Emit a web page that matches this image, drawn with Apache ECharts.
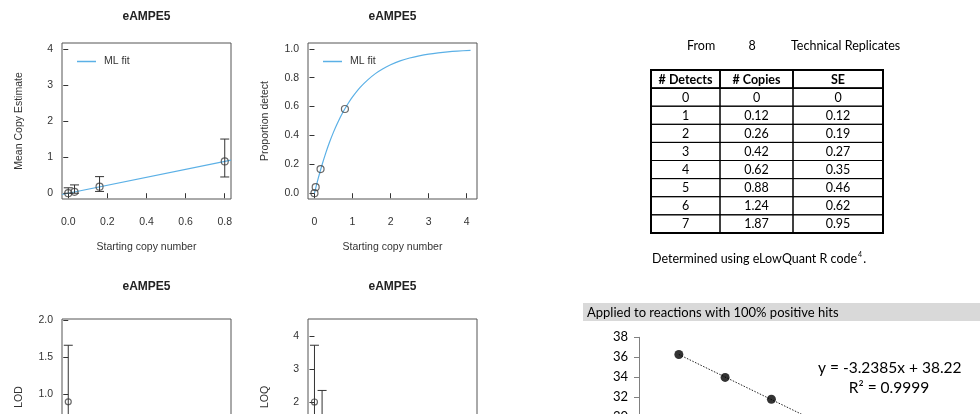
<!DOCTYPE html>
<html><head><meta charset="utf-8">
<script src="https://cdn.jsdelivr.net/npm/echarts@6/dist/echarts.min.js"></script>
<style>html,body{margin:0;padding:0;background:#fff}#c{width:980px;height:414px}</style>
</head><body><div id="c"></div><script>
// ---- data ----
const startCopies = [0, 0.032, 0.16, 0.8];
const meanEstimate = [0, 0.04, 0.18, 0.88];
const meanLow = [0, 0, 0.05, 0.45];
const meanHigh = [0.15, 0.23, 0.46, 1.50];
const propDetect = [0, 0.042, 0.167, 0.583];
const fitLineX = [-0.032, 0.832];
const fitLineY = [-0.035, 0.915];
const fitCurveX = [0, 0.1, 0.2, 0.3, 0.4, 0.5, 0.6, 0.75, 0.9, 1, 1.2, 1.4, 1.6, 1.8, 2, 2.25, 2.5, 2.75, 3, 3.25, 3.5, 3.75, 4.1];
const fitCurveY = [0, 0.104, 0.197, 0.281, 0.356, 0.423, 0.483, 0.562, 0.628, 0.667, 0.733, 0.785, 0.828, 0.862, 0.889, 0.916, 0.936, 0.951, 0.963, 0.972, 0.979, 0.984, 0.989];
const lodX = [0], lodVal = [0.9], lodLow = [0.14], lodHigh = [1.66];
const loqX = [0, 0.2], loqVal = [2.0, 1.3], loqLow = [0.28, 0.25], loqHigh = [3.72, 2.35];
const ticksMean = [0, 1, 2, 3, 4];
const ticksCopyX = [0, 0.2, 0.4, 0.6, 0.8];
const ticksProp = [0, 0.2, 0.4, 0.6, 0.8, 1.0];
const ticksCopyX2 = [0, 1, 2, 3, 4];
const ticksLod = [0, 0.5, 1.0, 1.5, 2.0];
const ticksLoq = [0, 1, 2, 3, 4];
const tableHead = ['# Detects', '# Copies', 'SE'];
const detects = ['0', '1', '2', '3', '4', '5', '6', '7'];
const copies = ['0', '0.12', '0.26', '0.42', '0.62', '0.88', '1.24', '1.87'];
const seVals = ['0', '0.12', '0.19', '0.27', '0.35', '0.46', '0.62', '0.95'];
const logCopies = [0.602, 1.301, 2.0, 2.699];
const ctVals = [36.27, 33.97, 31.77, 29.5];
const trendX = [0.602, 2.699];
const trendY = [36.27, 29.48];
const plotTitle = 'eAMPE5';

// ---- styling helpers ----
const RF = "'Liberation Sans', Arial, sans-serif";
const CF = "Lato, 'Open Sans', sans-serif";
const TXT = '#333';
const BLUE = '#5bb0e6';

function rX(gi, min, max, ticks, fmt, name) {
  return {gridIndex: gi, type: 'value', min, max,
    axisLine: {show: false}, splitLine: {show: false},
    axisTick: {show: true, inside: false, length: 5, customValues: ticks, lineStyle: {color: TXT}},
    axisLabel: {customValues: ticks, formatter: fmt, margin: 18, fontSize: 10.5, color: TXT, fontFamily: RF},
    name: name || '', nameLocation: 'middle', nameGap: 43,
    nameTextStyle: {fontSize: 10.5, color: TXT, fontFamily: RF}};
}
function rY(gi, min, max, ticks, fmt, name) {
  return {gridIndex: gi, type: 'value', min, max,
    axisLine: {show: false}, splitLine: {show: false},
    axisTick: {show: true, inside: false, length: 5, customValues: ticks, lineStyle: {color: TXT}},
    axisLabel: {customValues: ticks, formatter: fmt, margin: 9, fontSize: 10.5, color: TXT, fontFamily: RF},
    name, nameLocation: 'middle', nameGap: 37,
    nameTextStyle: {fontSize: 10.5, color: TXT, fontFamily: RF}};
}
function errBars(xs, lo, hi, gi) {
  return {type: 'custom', xAxisIndex: gi, yAxisIndex: gi, silent: true, z: 4, clip: true,
    data: xs.map((x, i) => [x, lo[i], hi[i]]),
    renderItem(params, api) {
      const a = api.coord([api.value(0), api.value(1)]);
      const b = api.coord([api.value(0), api.value(2)]);
      const w = 4.5, st = {stroke: '#333', lineWidth: 1};
      return {type: 'group', children: [
        {type: 'line', shape: {x1: a[0], y1: a[1], x2: b[0], y2: b[1]}, style: st},
        {type: 'line', shape: {x1: a[0] - w, y1: a[1], x2: a[0] + w, y2: a[1]}, style: st},
        {type: 'line', shape: {x1: b[0] - w, y1: b[1], x2: b[0] + w, y2: b[1]}, style: st}]};
    }};
}
function pts(xs, ys, gi, size) {
  return {type: 'scatter', xAxisIndex: gi, yAxisIndex: gi, symbol: 'circle', symbolSize: size || 7, z: 3,
    data: xs.map((x, i) => [x, ys[i]]),
    itemStyle: {color: 'rgba(0,0,0,0)', borderColor: '#444', borderWidth: 1.2}};
}
const f1 = v => v.toFixed(1), f0 = v => String(Math.round(v));

// ---- graphic (titles, table, texts) ----
const graphics = [];
[[146.5, 17], [392.5, 17], [146.5, 287], [392.5, 287]].forEach(p => graphics.push({
  type: 'text', x: p[0], y: p[1], style: {text: plotTitle, font: "bold 12px " + RF, fill: '#222', align: 'center', verticalAlign: 'middle'}}));

graphics.push({type: 'text', x: 687, y: 45.5, style: {text: 'From', font: '12.5px ' + CF, fill: '#000', verticalAlign: 'middle'}});
graphics.push({type: 'text', x: 752, y: 45.5, style: {text: '8', font: '12.5px ' + CF, fill: '#000', align: 'center', verticalAlign: 'middle'}});
graphics.push({type: 'text', x: 791, y: 45.5, style: {text: 'Technical Replicates', font: '12.5px ' + CF, fill: '#000', verticalAlign: 'middle'}});

const colX = [651, 720, 793, 883], rowTop = 70, rowH = 18.1;
const rows = [tableHead].concat(detects.map((d, i) => [d, copies[i], seVals[i]]));
rows.forEach((r, ri) => {
  r.forEach((cell, ci) => {
    const y = rowTop + ri * rowH;
    graphics.push({type: 'rect', shape: {x: colX[ci], y, width: colX[ci + 1] - colX[ci], height: rowH},
      style: {fill: 'none', stroke: '#000', lineWidth: ri === 0 ? 1.6 : 1}});
    graphics.push({type: 'text', x: (colX[ci] + colX[ci + 1]) / 2, y: y + rowH / 2 + 0.5,
      style: {text: cell, font: (ri === 0 ? 'bold ' : '') + '12.5px ' + CF, fill: '#000', align: 'center', verticalAlign: 'middle'}});
  });
});
graphics.push({type: 'rect', shape: {x: colX[0], y: rowTop, width: colX[3] - colX[0], height: rowH * 9},
  style: {fill: 'none', stroke: '#000', lineWidth: 2}});
graphics.push({type: 'text', x: 652, y: 259, style: {
  text: 'Determined using eLowQuant R code{s|4}.', font: '12.5px ' + CF, fill: '#000', verticalAlign: 'middle',
  rich: {s: {fontSize: 7, fontFamily: CF, padding: [0, 1, 8, 1], fill: '#000'}}}});

graphics.push({type: 'rect', z: -1, shape: {x: 583, y: 303, width: 397, height: 18}, style: {fill: '#d9d9d9'}});
graphics.push({type: 'text', x: 587, y: 312.5, style: {text: 'Applied to reactions with 100% positive hits', font: '13px ' + CF, fill: '#000', verticalAlign: 'middle'}});
graphics.push({type: 'text', x: 818, y: 368, style: {text: 'y = -3.2385x + 38.22', font: '15.5px ' + CF, fill: '#000', verticalAlign: 'middle'}});
graphics.push({type: 'text', x: 889, y: 388, style: {text: 'R² = 0.9999', font: '15.5px ' + CF, fill: '#000', align: 'center', verticalAlign: 'middle'}});

const gridBox = {show: true, borderColor: '#555', borderWidth: 1, backgroundColor: 'transparent', containLabel: false, outerBoundsMode: 'none'};

const option = {
  animation: false,
  backgroundColor: '#fff',
  grid: [
    Object.assign({left: 62, top: 43, width: 169, height: 156}, gridBox),
    Object.assign({left: 308, top: 43, width: 169, height: 156}, gridBox),
    Object.assign({left: 62, top: 319, width: 169, height: 156}, gridBox),
    Object.assign({left: 308, top: 319, width: 169, height: 156}, gridBox),
    {left: 639, top: 337.3, width: 331, height: 159.2, show: false, containLabel: false, outerBoundsMode: 'none'}
  ],
  legend: [
    {left: 72, top: 51, data: ['ML fit'], icon: 'rect', itemWidth: 19, itemHeight: 1.5, selectedMode: false,
      textStyle: {fontSize: 10.5, color: TXT, fontFamily: RF, padding: [0, 0, 0, 3]}},
    {left: 318, top: 51, data: ['ML fit'], icon: 'rect', itemWidth: 19, itemHeight: 1.5, selectedMode: false,
      textStyle: {fontSize: 10.5, color: TXT, fontFamily: RF, padding: [0, 0, 0, 3]}}
  ],
  xAxis: [
    rX(0, -0.032, 0.832, ticksCopyX, f1, 'Starting copy number'),
    rX(1, -0.17, 4.27, ticksCopyX2, f0, 'Starting copy number'),
    rX(2, -0.032, 0.832, ticksCopyX, f1, ''),
    rX(3, -0.17, 4.27, ticksCopyX2, f0, ''),
    {gridIndex: 4, type: 'value', min: 0, max: 5, show: false}
  ],
  yAxis: [
    rY(0, -0.16, 4.16, ticksMean, f0, 'Mean Copy Estimate'),
    rY(1, -0.04, 1.04, ticksProp, f1, 'Proportion detect'),
    rY(2, -0.084, 2.013, ticksLod, f1, 'LOD'),
    rY(3, -0.212, 4.515, ticksLoq, f0, 'LOQ'),
    {gridIndex: 4, type: 'value', min: 22, max: 38, interval: 2,
      axisLine: {show: true, lineStyle: {color: '#808080', width: 1}},
      axisTick: {show: true, inside: false, length: 5, lineStyle: {color: '#808080'}},
      splitLine: {show: false},
      axisLabel: {margin: 11, fontSize: 13, color: '#000', fontFamily: CF}}
  ],
  graphic: graphics,
  series: [
    {name: 'ML fit', type: 'line', xAxisIndex: 0, yAxisIndex: 0, symbol: 'none', color: BLUE,
      lineStyle: {color: BLUE, width: 1.2}, data: fitLineX.map((x, i) => [x, fitLineY[i]]), z: 2},
    pts(startCopies, meanEstimate, 0),
    errBars(startCopies, meanLow, meanHigh, 0),
    {name: 'ML fit', type: 'line', xAxisIndex: 1, yAxisIndex: 1, symbol: 'none', color: BLUE, smooth: 0.3,
      lineStyle: {color: BLUE, width: 1.2}, data: fitCurveX.map((x, i) => [x, fitCurveY[i]]), z: 2},
    pts(startCopies, propDetect, 1),
    pts(lodX, lodVal, 2, 6),
    errBars(lodX, lodLow, lodHigh, 2),
    pts(loqX, loqVal, 3, 6),
    errBars(loqX, loqLow, loqHigh, 3),
    {type: 'line', xAxisIndex: 4, yAxisIndex: 4, symbol: 'none', z: 2,
      lineStyle: {color: '#222', width: 1, type: [1.5, 1.5]}, data: trendX.map((x, i) => [x, trendY[i]])},
    {type: 'scatter', xAxisIndex: 4, yAxisIndex: 4, symbol: 'circle', symbolSize: 9, z: 3,
      itemStyle: {color: '#000'}, data: logCopies.map((x, i) => [x, ctVals[i]])}
  ]
};
const chart = echarts.init(document.getElementById('c'), null, {renderer: 'canvas'});
chart.setOption(option);
</script></body></html>
